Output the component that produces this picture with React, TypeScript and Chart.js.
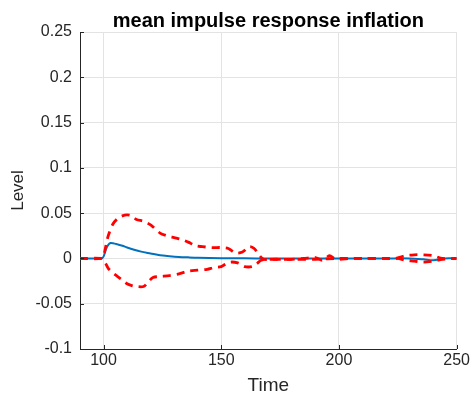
import React, { useEffect, useRef } from "react";
import { Chart, registerables } from "chart.js";

Chart.register(...registerables);

const TITLE = "mean impulse response inflation";
const X_LABEL = "Time";
const Y_LABEL = "Level";
const X_TICKS = [100, 150, 200, 250];
const Y_TICKS = [-0.1, -0.05, 0, 0.05, 0.1, 0.15, 0.2, 0.25];

const MEAN_T = [90, 99, 100, 101, 102, 103, 104, 106, 108, 110, 113, 116, 120, 124, 128, 132, 136, 140, 150, 160, 170, 180, 190, 200, 210, 220, 230, 236, 240, 245, 250];
const MEAN_V = [0, 0, 0.002, 0.01, 0.015, 0.017, 0.0168, 0.0155, 0.014, 0.012, 0.0095, 0.0075, 0.0055, 0.0035, 0.0025, 0.0017, 0.0012, 0.0008, 0.0003, 0.0001, 0, 0, 0, 0, 0, 0, 0, -0.001, -0.002, 0, 0];

const UPPER_T = [90, 99, 100, 101, 102, 104, 106, 108, 110, 112, 114, 117, 120, 124, 127, 130, 133, 136, 139, 142, 146, 150, 153, 156, 159, 162, 164, 166, 168, 170, 175, 180, 185, 190, 193, 196, 198, 200, 205, 210, 215, 220, 224, 228, 232, 236, 240, 244, 250];
const UPPER_V = [0, 0, 0.003, 0.014, 0.025, 0.038, 0.044, 0.047, 0.048, 0.047, 0.043, 0.041, 0.037, 0.028, 0.025, 0.023, 0.021, 0.018, 0.014, 0.013, 0.012, 0.012, 0.011, 0.006, 0.007, 0.013, 0.011, 0.004, -0.001, -0.001, -0.001, -0.001, 0, 0.001, -0.002, 0.003, 0, -0.001, 0, 0, 0, 0, 0, 0.003, 0.004, 0.004, 0.003, 0, 0];

const LOWER_T = [90, 99, 100, 101, 102, 104, 106, 108, 110, 112, 114, 117, 119, 121, 124, 128, 132, 136, 140, 144, 147, 150, 152, 154, 157, 160, 163, 165, 167, 170, 180, 190, 200, 210, 220, 225, 228, 232, 236, 240, 244, 250];
const LOWER_V = [0, 0, -0.002, -0.006, -0.011, -0.016, -0.02, -0.024, -0.028, -0.03, -0.031, -0.031, -0.026, -0.021, -0.02, -0.019, -0.017, -0.014, -0.013, -0.012, -0.01, -0.009, -0.006, -0.004, -0.005, -0.009, -0.009, -0.006, -0.002, -0.001, -0.001, -0.001, 0, 0, 0, 0, -0.002, -0.003, -0.004, -0.003, -0.001, 0];

const toXY = (t: number[], v: number[]) => t.map((x, i) => ({ x, y: v[i] }));

const FONT = "'Liberation Sans', Arial, Helvetica, sans-serif";
const TXT = "#262626";

const innerTicks = {
  id: "innerTicks",
  afterDraw(chart: any) {
    const { ctx, chartArea, scales } = chart;
    ctx.save();
    ctx.strokeStyle = TXT;
    ctx.lineWidth = 1;
    ctx.beginPath();
    X_TICKS.forEach((v) => {
      const px = Math.round(scales.x.getPixelForValue(v)) + 0.5;
      ctx.moveTo(px, chartArea.bottom);
      ctx.lineTo(px, chartArea.bottom - 4);
    });
    Y_TICKS.forEach((v) => {
      const py = Math.round(scales.y.getPixelForValue(v)) + 0.5;
      ctx.moveTo(chartArea.left, py);
      ctx.lineTo(chartArea.left + 4, py);
    });
    ctx.stroke();
    ctx.restore();
  },
};

const axesTitle = {
  id: "axesTitle",
  afterDraw(chart: any) {
    const { ctx, chartArea } = chart;
    ctx.save();
    ctx.fillStyle = "#000";
    ctx.font = `bold 20px ${FONT}`;
    ctx.textAlign = "center";
    ctx.textBaseline = "alphabetic";
    ctx.fillText(TITLE, (chartArea.left + chartArea.right) / 2, chartArea.top - 5);
    ctx.restore();
  },
};

export default function App() {
  const ref = useRef<HTMLCanvasElement | null>(null);
  useEffect(() => {
    if (!ref.current) return;
    const chart = new Chart(ref.current, {
      type: "line",
      data: {
        datasets: [
          {
            data: toXY(MEAN_T, MEAN_V),
            borderColor: "#0072BD",
            borderWidth: 2,
            pointRadius: 0,
            tension: 0.3,
            order: 3,
          },
          {
            data: toXY(UPPER_T, UPPER_V),
            borderColor: "#FF0000",
            borderWidth: 2.8,
            borderDash: [8, 6],
            pointRadius: 0,
            tension: 0.3,
            order: 1,
          },
          {
            data: toXY(LOWER_T, LOWER_V),
            borderColor: "#FF0000",
            borderWidth: 2.8,
            borderDash: [8, 6],
            pointRadius: 0,
            tension: 0.3,
            order: 1,
          },
        ],
      },
      options: {
        animation: false,
        responsive: false,
        maintainAspectRatio: false,
        layout: { padding: { left: 0, right: 13, top: 32, bottom: 0 } },
        plugins: {
          legend: { display: false },
          tooltip: { enabled: false },
          title: { display: false },
        },
        scales: {
          x: {
            type: "linear",
            min: 90,
            max: 250,
            afterBuildTicks: (s: any) => {
              s.ticks = X_TICKS.map((value) => ({ value }));
            },
            afterFit: (s: any) => {
              s.height = 48;
            },
            grid: { color: "#e3e3e3", drawTicks: false },
            border: { display: true, color: TXT, width: 1 },
            ticks: { color: TXT, font: { family: FONT, size: 16 }, padding: 2, maxRotation: 0 },
            title: { display: true, text: X_LABEL, color: TXT, font: { family: FONT, size: 19 }, padding: { top: 0, bottom: 0 } },
          },
          y: {
            min: -0.1,
            max: 0.25,
            afterBuildTicks: (s: any) => {
              s.ticks = Y_TICKS.map((value) => ({ value }));
            },
            afterFit: (s: any) => {
              s.width = 80;
            },
            grid: { color: "#e3e3e3", drawTicks: false },
            border: { display: true, color: TXT, width: 1 },
            ticks: {
              color: TXT,
              font: { family: FONT, size: 16 },
              padding: 8,
              callback: (v: any) => String(Number(Number(v).toFixed(2))),
            },
            title: { display: true, text: Y_LABEL, color: TXT, font: { family: FONT, size: 17 }, padding: { top: 8, bottom: 0 } },
          },
        },
      },
      plugins: [innerTicks, axesTitle],
    });
    return () => chart.destroy();
  }, []);
  return (
    <div style={{ position: "fixed", left: 0, top: 0, width: 472, height: 397, background: "#fff" }}>
      <canvas ref={ref} width={472} height={397} />
    </div>
  );
}
